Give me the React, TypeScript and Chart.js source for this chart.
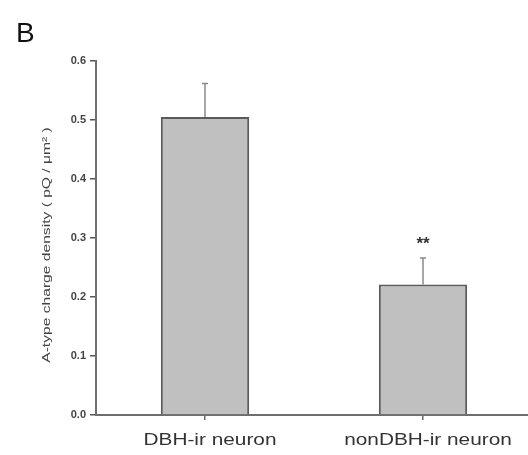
import React, { useEffect, useRef } from "react";
import { Chart, registerables } from "chart.js";

Chart.register(...registerables);

const categories = ["DBH-ir neuron", "nonDBH-ir neuron"];
const means = [0.505, 0.221];
const errors = [0.057, 0.045];
const significance = ["", "**"];
const yTicks = [0, 0.1, 0.2, 0.3, 0.4, 0.5, 0.6];
const panelLabel = "B";
const yTitle = "A-type charge density ( pQ / \u03bcm\u00b2 )";

const FONT = "'Liberation Sans', Arial, sans-serif";

const extrasPlugin = {
  id: "extras",
  afterDatasetsDraw(chart: any) {
    const ctx = chart.ctx;
    const meta = chart.getDatasetMeta(0);
    const y = chart.scales.y;
    const x = chart.scales.x;
    ctx.save();
    meta.data.forEach((bar: any, i: number) => {
      const top = y.getPixelForValue(means[i]);
      const errTop = y.getPixelForValue(means[i] + errors[i]);
      ctx.strokeStyle = "#8a8a8a";
      ctx.lineWidth = 1.5;
      ctx.beginPath();
      ctx.moveTo(bar.x, top);
      ctx.lineTo(bar.x, errTop);
      ctx.moveTo(bar.x - 3, errTop);
      ctx.lineTo(bar.x + 3, errTop);
      ctx.stroke();
      if (significance[i]) {
        ctx.fillStyle = "#333";
        ctx.font = "bold 17px " + FONT;
        ctx.textAlign = "center";
        ctx.textBaseline = "alphabetic";
        ctx.fillText(significance[i], bar.x, errTop - 9);
      }
    });

    // category labels (slightly widened, as in the reference)
    ctx.fillStyle = "#333";
    ctx.font = "16px " + FONT;
    ctx.textAlign = "center";
    ctx.textBaseline = "alphabetic";
    categories.forEach((c, i) => {
      const px = x.getPixelForTick(i) + 5;
      ctx.save();
      ctx.translate(px, 445);
      ctx.scale(1.3, 1);
      ctx.fillText(c, 0, 0);
      ctx.restore();
    });

    // y axis title
    ctx.save();
    ctx.fillStyle = "#444";
    ctx.font = "11px " + FONT;
    ctx.textAlign = "center";
    ctx.textBaseline = "middle";
    ctx.translate(47, 245);
    ctx.rotate(-Math.PI / 2);
    ctx.scale(1.42, 1);
    ctx.fillText(yTitle, 0, 0);
    ctx.restore();

    ctx.fillStyle = "#111";
    ctx.font = "28px " + FONT;
    ctx.textAlign = "left";
    ctx.textBaseline = "alphabetic";
    ctx.fillText(panelLabel, 16, 42);
    ctx.restore();
  },
};

export default function App() {
  const ref = useRef<HTMLCanvasElement>(null);
  useEffect(() => {
    const chart = new Chart(ref.current as HTMLCanvasElement, {
      type: "bar",
      data: {
        labels: categories,
        datasets: [
          {
            data: means,
            backgroundColor: "#c0c0c0",
            borderColor: "#5a5a5a",
            borderWidth: 2,
            borderSkipped: "start",
            categoryPercentage: 1,
            barPercentage: 0.405,
          },
        ],
      },
      options: {
        responsive: false,
        animation: false,
        layout: { padding: { top: 61, left: 0, right: 0, bottom: 0 } },
        plugins: { legend: { display: false }, tooltip: { enabled: false } },
        scales: {
          x: {
            afterFit: (s: any) => {
              s.height = 40;
            },
            grid: {
              offset: false,
              drawOnChartArea: false,
              drawTicks: true,
              tickLength: 5,
              color: "#666",
              lineWidth: 1.5,
            },
            border: { display: true, color: "#6e6e6e", width: 2 },
            ticks: {
              display: false,
            },
          },
          y: {
            min: 0,
            max: 0.6,
            afterFit: (s: any) => {
              s.width = 96;
            },
            afterBuildTicks: (s: any) => {
              s.ticks = yTicks.map((v) => ({ value: v }));
            },
            grid: {
              drawOnChartArea: false,
              drawTicks: true,
              tickLength: 6,
              color: "#555",
              lineWidth: 1.5,
            },
            border: { display: true, color: "#6e6e6e", width: 2 },
            ticks: {
              color: "#444",
              padding: 4,
              callback: (v: any) => Number(v).toFixed(1),
              font: { family: FONT, size: 11, weight: "bold" },
            },
          },
        },
      },
      plugins: [extrasPlugin],
    });
    return () => chart.destroy();
  }, []);
  return (
    <div style={{ position: "fixed", left: 0, top: 0, width: 528, height: 455, overflow: "hidden", background: "#fff" }}>
      <canvas ref={ref} width={532} height={455} style={{ display: "block" }} />
    </div>
  );
}
